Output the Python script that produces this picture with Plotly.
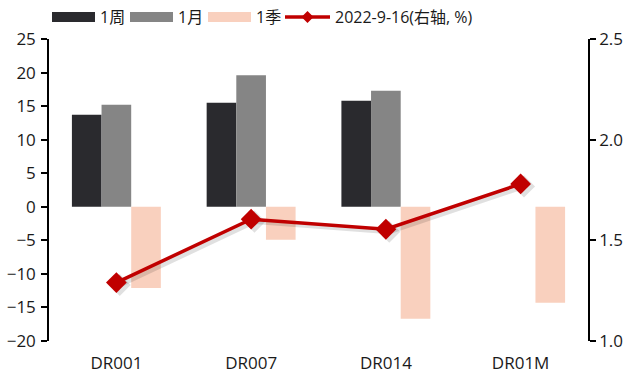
import plotly.graph_objects as go

# Data
categories = ["DR001", "DR007", "DR014", "DR01M"]
week_chg = [13.7, 15.5, 15.8, None]       # 1周 (bp)
month_chg = [15.2, 19.6, 17.3, None]      # 1月 (bp)
quarter_chg = [-12.1, -4.9, -16.7, -14.3] # 1季 (bp)
rate_0916 = [1.29, 1.605, 1.555, 1.78]    # 2022-9-16 (右轴, %)

C_DARK = "#2A2A2E"
C_GRAY = "#858585"
C_PEACH = "#F9D0BE"
C_RED = "#C00000"
FONT = "Open Sans, Noto Sans CJK SC"

W, H = 635, 378
ML, MR, MT, MB = 49, 47, 39, 37
YL = [-20, 25]
YR = [1.0, 2.5]

xs = list(range(len(categories)))

fig = go.Figure()
for vals, col, nm in [(week_chg, C_DARK, "1周"), (month_chg, C_GRAY, "1月"),
                      (quarter_chg, C_PEACH, "1季")]:
    fig.add_bar(x=xs, y=vals, marker=dict(color=col, line=dict(width=0)),
                name=nm, showlegend=False)

# soft drop shadow under the line
fig.add_scatter(x=[v + 0.025 for v in xs], y=[v - 0.012 for v in rate_0916], yaxis="y2",
                mode="lines+markers", line=dict(color="rgba(0,0,0,0.12)", width=5),
                marker=dict(symbol="diamond", size=17, color="rgba(0,0,0,0.12)"),
                showlegend=False, hoverinfo="skip")
fig.add_scatter(x=xs, y=rate_0916, yaxis="y2", mode="lines+markers",
                line=dict(color=C_RED, width=3.5),
                marker=dict(symbol="diamond", size=16, color=C_RED),
                name="2022-9-16(右轴, %)", showlegend=False)

# pixel -> paper helpers for the legend row above the plot
pw, ph = W - ML - MR, H - MT - MB
def px(x):
    return (x - ML) / pw
def py(y):
    return (H - MB - y) / ph

shapes, annots = [], []
legend_items = [
    ("rect", C_DARK, 52, 95, "1周"),
    ("rect", C_GRAY, 130, 173, "1月"),
    ("rect", C_PEACH, 208, 251, "1季"),
    ("line", C_RED, 285, 330, "2022-9-16(右轴, %)"),
]
ly = 17
for kind, col, x0, x1, label in legend_items:
    if kind == "rect":
        shapes.append(dict(type="rect", xref="paper", yref="paper", x0=px(x0), x1=px(x1),
                           y0=py(ly + 5), y1=py(ly - 5), fillcolor=col, line_width=0))
    else:
        shapes.append(dict(type="line", xref="paper", yref="paper", x0=px(x0), x1=px(x1),
                           y0=py(ly), y1=py(ly), line=dict(color=col, width=3.5)))
        xm = (x0 + x1) / 2
        shapes.append(dict(type="path", xref="paper", yref="paper",
                           path=f"M{px(xm-6)},{py(ly)} L{px(xm)},{py(ly-6)} L{px(xm+6)},{py(ly)} L{px(xm)},{py(ly+6)} Z",
                           fillcolor=col, line_width=0))
    annots.append(dict(text=label, xref="paper", yref="paper", x=px(x1 + 3), y=py(ly),
                       xanchor="left", yanchor="middle", showarrow=False,
                       font=dict(family=FONT, size=16, color="#1a1a1a")))

zero_pos = (0 - YL[0]) / (YL[1] - YL[0])
axis_common = dict(showline=True, linecolor="black", linewidth=1.5,
                   ticks="outside", ticklen=6, tickwidth=1.5, tickcolor="black",
                   showgrid=False, zeroline=False, automargin=False)

fig.update_layout(
    width=W, height=H,
    margin=dict(l=ML, r=MR, t=MT, b=MB, autoexpand=False),
    paper_bgcolor="white", plot_bgcolor="white",
    barmode="group", bargap=0.34, bargroupgap=0,
    font=dict(family=FONT, size=17, color="#1a1a1a"),
    xaxis=dict(range=[-0.5, 3.5], tickvals=xs, ticktext=categories, showline=False,
               ticks="", showgrid=False, zeroline=False, ticklabelstandoff=10,
               automargin=False),
    xaxis2=dict(range=[-0.5, 3.5], overlaying="x", anchor="free", position=zero_pos,
                tickvals=[0.5, 1.5, 2.5], showticklabels=False, **axis_common),
    yaxis=dict(range=YL, dtick=5, ticklabelstandoff=2, **axis_common),
    yaxis2=dict(range=YR, dtick=0.5, tickformat=".1f", overlaying="y", side="right",
                **axis_common),
    shapes=shapes, annotations=annots,
)

fig.write_html("out.html")
